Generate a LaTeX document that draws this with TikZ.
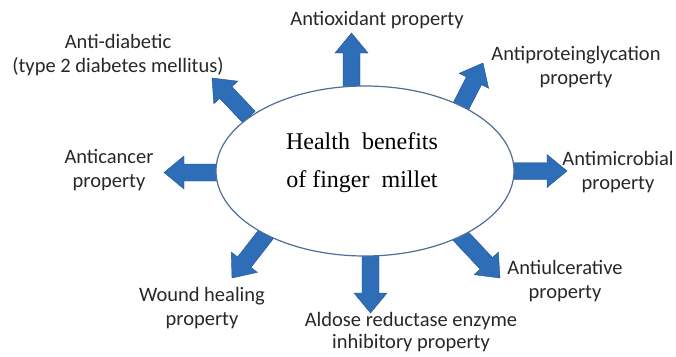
\documentclass[tikz,border=0pt]{standalone}
\usepackage{fontspec}
\setmainfont{Carlito}
\newfontfamily\serifhb{Liberation Serif}
\usetikzlibrary{calc,shapes.geometric}
\definecolor{arrowblue}{RGB}{46,110,184}
\definecolor{arrowedge}{RGB}{30,80,140}
\definecolor{ellline}{RGB}{80,110,150}
\definecolor{labeltext}{RGB}{40,40,40}
\tikzset{
  barrow/.style={fill=arrowblue, draw=arrowedge, line width=0.4pt, line join=miter},
  lbl/.style={align=center, text=labeltext, inner sep=0pt, font=\fontsize{20.5}{24}\selectfont},
  centre/.style={ellipse, draw=ellline, line width=1.2pt, fill=white, minimum width=298pt, minimum height=170pt, inner sep=0pt},
}
\newcommand\blockarrow[2]{%
  \coordinate (hb) at ($(#2)!20pt!(#1)$);
  \path[barrow] ($(#1)!8.5pt!90:(#2)$) -- ($(hb)!8.5pt!-90:(#1)$) -- ($(hb)!16.5pt!-90:(#1)$) -- (#2) -- ($(hb)!16.5pt!90:(#1)$) -- ($(hb)!8.5pt!90:(#1)$) -- ($(#1)!8.5pt!-90:(#2)$) -- cycle;}
\begin{document}
\begin{tikzpicture}[x=1pt,y=-1pt]
\useasboundingbox (0,0) rectangle (676,356);
% arrow ends
\coordinate (s1) at (249,117);   \coordinate (t1) at (212,78);
\coordinate (s2) at (351.5,90);  \coordinate (t2) at (351.5,33);
\coordinate (s3) at (459,110);   \coordinate (t3) at (483,63);
\coordinate (s4) at (506,171);   \coordinate (t4) at (567,171);
\coordinate (s5) at (455,230);   \coordinate (t5) at (500,278);
\coordinate (s6) at (370.5,252); \coordinate (t6) at (370.5,313);
\coordinate (s7) at (267,233);   \coordinate (t7) at (232,278);
\coordinate (s8) at (222,172.5); \coordinate (t8) at (164,172.5);
\blockarrow{s1}{t1}
\blockarrow{s2}{t2}
\blockarrow{s3}{t3}
\blockarrow{s4}{t4}
\blockarrow{s5}{t5}
\blockarrow{s6}{t6}
\blockarrow{s7}{t7}
\blockarrow{s8}{t8}
\node[centre] (c) at (365,171) {};
\node[align=center, inner sep=0pt, font=\serifhb\fontsize{24}{38}\selectfont] (ct) at (362,163) {Health\ \ benefits\\of finger\ \ millet};
% labels
\node[lbl] (l1) at (118,55) {Anti-diabetic\\(type 2 diabetes mellitus)};
\node[lbl] (l2) at (377,20) {Antioxidant property};
\node[lbl] (l3) at (576,67) {Antiproteinglycation\\property};
\node[lbl] (l4) at (618,172) {Antimicrobial\\property};
\node[lbl] (l5) at (565,281) {Antiulcerative\\property};
\node[lbl, font=\fontsize{20.5}{22}\selectfont] (l6) at (411,332) {Aldose reductase enzyme\\inhibitory property};
\node[lbl] (l7) at (202,308) {Wound healing\\property};
\node[lbl] (l8) at (109,170) {Anticancer\\property};
\end{tikzpicture}
\end{document}
